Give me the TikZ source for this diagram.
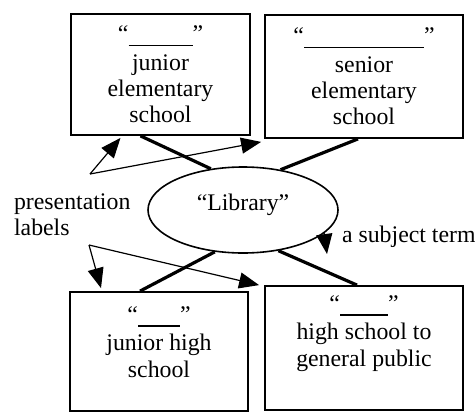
\documentclass[tikz,border=0pt]{standalone}
\usepackage{fontspec}
\setmainfont{Liberation Serif}
\usetikzlibrary{arrows.meta,shapes.geometric,calc}

\begin{document}
\begin{tikzpicture}[x=0.5pt, y=-0.5pt,
  font=\fontsize{11.9}{13.2}\selectfont,
  box/.style={draw, line width=0.9pt, align=center, inner sep=0pt},
  link/.style={line width=1.6pt},
  arr/.style={-{Triangle[length=10pt,width=8pt]}, line width=0.6pt}
]
\useasboundingbox (0,0) rectangle (475,412);
\node[box, minimum width=89.5pt, minimum height=60.5pt] (jes) at (160.5,74.5)
  {“\rule[-2pt]{32pt}{0.6pt}”\\[1pt]junior\\elementary\\school};
\node[box, minimum width=99pt, minimum height=61.5pt] (ses) at (364,76.5)
  {“\rule[-2pt]{60pt}{0.6pt}”\\[1pt]senior\\elementary\\school};
\node[box, minimum width=89pt, minimum height=59.5pt, text depth=9.5pt] (jhs) at (159,351.5)
  {“\rule[-2pt]{21pt}{0.6pt}”\\[1pt]junior high\\school};
\node[box, minimum width=99pt, minimum height=62pt, text depth=17pt] (hsg) at (364,348)
  {“\rule[-2pt]{24pt}{0.6pt}”\\[1pt]high school to\\general public};
\node[draw, ellipse, line width=0.8pt, minimum width=95pt, minimum height=43pt,
  inner sep=0pt, text depth=7.7pt] (lib) at (243,210) {“Library”};
\node[anchor=west, align=left] (pl) at (7,215) {presentation\\labels};
\node[anchor=west] (st) at (335,237) {a subject term};
\coordinate (pa) at (90,174);
\coordinate (pb) at (89,245);
\coordinate (stip) at (327,254);
% links between the term and its labels
\draw[link] ([xshift=-10pt]jes.south) -- (lib.128);
\draw[link] ([xshift=-3pt]ses.south) -- (lib.47);
\draw[link] (lib.-124) -- ([xshift=-9.5pt]jhs.north);
\draw[link] (lib.-49) -- ([xshift=-3.5pt]hsg.north);
% pointers from the annotations
\draw[arr] (pa) -- ([xshift=-20pt,yshift=-1pt]jes.south);
\draw[arr] (pa) -- ([xshift=-1.5pt,yshift=-1.5pt]ses.south west);
\draw[arr] (pb) -- ([xshift=-29pt,yshift=1.5pt]jhs.north);
\draw[arr] (pb) -- ([xshift=-2.5pt]hsg.north west);
\draw[arr] (lib.-16) -- (stip);
\end{tikzpicture}
\end{document}
